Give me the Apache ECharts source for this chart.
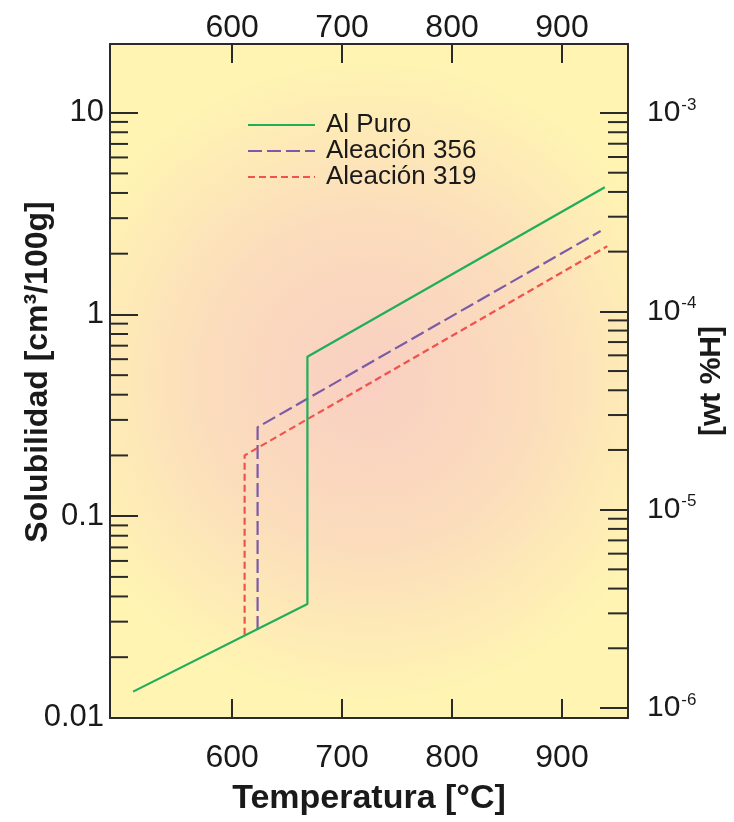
<!DOCTYPE html>
<html>
<head>
<meta charset="utf-8">
<script src="https://cdn.jsdelivr.net/npm/echarts@6/dist/echarts.min.js"></script>
<style>
html,body{margin:0;padding:0;background:#ffffff;}
#chart{width:734px;height:822px;}
</style>
</head>
<body>
<div id="chart"></div>
<script>
// ---- data ----
const seriesNames = ['Al Puro', 'Aleación 356', 'Aleación 319'];
const alPuroTemp = [510, 668.5, 668.5, 938.9];
const alPuroSol  = [0.0135, 0.0367, 0.617, 4.27];
const a356Temp = [623.2, 623.2, 935.1];
const a356Sol  = [0.0273, 0.276, 2.59];
const a319Temp = [611.4, 611.4, 941.2];
const a319Sol  = [0.0258, 0.20, 2.18];

const xTicks = [600, 700, 800, 900];
const yLeftTicks = [0.01, 0.1, 1, 10];
const yLeftTickLabels = ['0.01', '0.1', '1', '10'];
const yLeftMinor = [0.02,0.03,0.04,0.05,0.06,0.07,0.08,0.09,
                    0.2,0.3,0.4,0.5,0.6,0.7,0.8,0.9,
                    2,3,4,5,6,7,8,9];
const yRightTicks = [1e-6, 1e-5, 1e-4, 1e-3];
const yRightTickExp = ['-6', '-5', '-4', '-3'];
const yRightMinor = [2e-6,3e-6,4e-6,5e-6,6e-6,7e-6,8e-6,9e-6,
                     2e-5,3e-5,4e-5,5e-5,6e-5,7e-5,8e-5,9e-5,
                     2e-4,3e-4,4e-4,5e-4,6e-4,7e-4,8e-4,9e-4];

const FONT = "'Liberation Sans', Arial, Helvetica, sans-serif";
const AX = '#2a2a2a';

function pairs(xs, ys) { return xs.map((x, i) => [x, ys[i]]); }
function nearestIdx(arr, v) {
  let best = 0, bd = Infinity;
  arr.forEach((a, i) => { const d = Math.abs(Math.log10(a) - Math.log10(v)); if (d < bd) { bd = d; best = i; } });
  return bd < 1e-3 ? best : -1;
}
function minorTickSeries(values, yAxisIndex, side, len) {
  return {
    type: 'custom', xAxisIndex: 0, yAxisIndex: yAxisIndex, silent: true, z: 5,
    data: values.map(v => [v]),
    encode: {y: 0},
    clip: false,
    renderItem: function (params, api) {
      const cs = params.coordSys;
      const y = api.coord([xTicks[0], api.value(0)])[1];
      const x0 = side === 'left' ? cs.x : cs.x + cs.width;
      const x1 = side === 'left' ? x0 + len : x0 - len;
      return {type: 'line', shape: {x1: x0, y1: y, x2: x1, y2: y}, style: {stroke: AX, lineWidth: 2}};
    }
  };
}

const chart = echarts.init(document.getElementById('chart'), null, {renderer: 'canvas'});

const xAxisBase = {
  type: 'value', min: 489, max: 960,
  axisLine: {show: true, onZero: false, lineStyle: {color: AX, width: 2}},
  axisTick: {show: true, inside: true, length: 19, customValues: xTicks, lineStyle: {color: AX, width: 2}},
  splitLine: {show: false}
};

const option = {
  animation: false,
  backgroundColor: '#ffffff',
  textStyle: {fontFamily: FONT},
  grid: {
    left: 110, right: 106, top: 44, bottom: 104, show: true, borderWidth: 0,
    containLabel: false, outerBoundsMode: 'none',
    backgroundColor: new echarts.graphic.RadialGradient(0.5, 0.5, 0.62, [
      {offset: 0, color: '#f9cfc2'},
      {offset: 0.5, color: '#fbdcbc'},
      {offset: 1, color: '#fff4b2'}
    ])
  },
  legend: {
    data: seriesNames,
    left: 242, top: 107, orient: 'vertical',
    itemWidth: 67, itemHeight: 14, itemGap: 0,
    itemStyle: {color: 'rgba(0,0,0,0)', borderWidth: 0, opacity: 0},
    textStyle: {fontSize: 26, color: '#1a1a1a', fontFamily: FONT, padding: [0, 0, 0, 6]},
    inactiveColor: '#999'
  },
  xAxis: [
    Object.assign({}, xAxisBase, {
      position: 'bottom',
      axisLabel: {customValues: xTicks, margin: 24, fontSize: 32, color: '#1a1a1a', fontFamily: FONT},
      name: 'Temperatura [°C]', nameLocation: 'middle', nameGap: 64, nameMoveOverlap: false,
      nameTextStyle: {fontSize: 34, fontWeight: 'bold', color: '#1a1a1a', fontFamily: FONT}
    }),
    Object.assign({}, xAxisBase, {
      position: 'top',
      axisLabel: {customValues: xTicks, margin: 0, fontSize: 32, color: '#1a1a1a', fontFamily: FONT}
    })
  ],
  yAxis: [
    {
      type: 'log', logBase: 10, min: 0.00999, max: 21.9, position: 'left',
      axisLine: {show: true, onZero: false, lineStyle: {color: AX, width: 2}},
      axisTick: {show: true, inside: true, length: 28, customValues: yLeftTicks, lineStyle: {color: AX, width: 2}},
      axisLabel: {
        customValues: yLeftTicks, margin: 6, fontSize: 31, color: '#1a1a1a', fontFamily: FONT,
        formatter: v => { const i = nearestIdx(yLeftTicks, v); return i >= 0 ? yLeftTickLabels[i] : ''; }
      },
      splitLine: {show: false},
      name: 'Solubilidad [cm³/100g]', nameLocation: 'middle', nameGap: 56, nameRotate: 90, nameMoveOverlap: false,
      nameTextStyle: {fontSize: 32, fontWeight: 'bold', color: '#1a1a1a', fontFamily: FONT, padding: [0, 0, 0, 18]}
    },
    {
      type: 'log', logBase: 10, min: Math.pow(10, -6.0505), max: Math.pow(10, -2.652), position: 'right',
      axisLine: {show: true, onZero: false, lineStyle: {color: AX, width: 2}},
      axisTick: {show: true, inside: true, length: 28, customValues: yRightTicks, lineStyle: {color: AX, width: 2}},
      axisLabel: {
        customValues: yRightTicks, margin: 19, color: '#1a1a1a', fontFamily: FONT,
        formatter: v => { const i = nearestIdx(yRightTicks, v); return i >= 0 ? '{b|10}{s|' + yRightTickExp[i] + '}' : ''; },
        rich: {
          b: {fontSize: 30, fontFamily: FONT, color: '#1a1a1a'},
          s: {fontSize: 17, fontFamily: FONT, color: '#1a1a1a', padding: [0, 0, 16, 1]}
        }
      },
      splitLine: {show: false},
      name: '[wt %H]', nameLocation: 'middle', nameGap: 69, nameRotate: 90, nameMoveOverlap: false,
      nameTextStyle: {fontSize: 30, fontWeight: 'bold', color: '#1a1a1a', fontFamily: FONT}
    }
  ],
  series: [
    {
      name: seriesNames[0], type: 'line', xAxisIndex: 0, yAxisIndex: 0,
      data: pairs(alPuroTemp, alPuroSol), symbol: 'none', z: 3,
      lineStyle: {color: '#1fae5a', width: 2.2, type: 'solid'}, itemStyle: {color: '#1fae5a'}
    },
    {
      name: seriesNames[1], type: 'line', xAxisIndex: 0, yAxisIndex: 0,
      data: pairs(a356Temp, a356Sol), symbol: 'none', z: 2,
      lineStyle: {color: '#7b5ba8', width: 2.2, type: [14, 5]}, itemStyle: {color: '#7b5ba8'}
    },
    {
      name: seriesNames[2], type: 'line', xAxisIndex: 0, yAxisIndex: 0,
      data: pairs(a319Temp, a319Sol), symbol: 'none', z: 2,
      lineStyle: {color: '#f0524e', width: 2.2, type: [7, 4]}, itemStyle: {color: '#f0524e'}
    },
    minorTickSeries(yLeftMinor, 0, 'left', 18),
    minorTickSeries(yRightMinor, 1, 'right', 20)
  ]
};
chart.setOption(option);
</script>
</body>
</html>
